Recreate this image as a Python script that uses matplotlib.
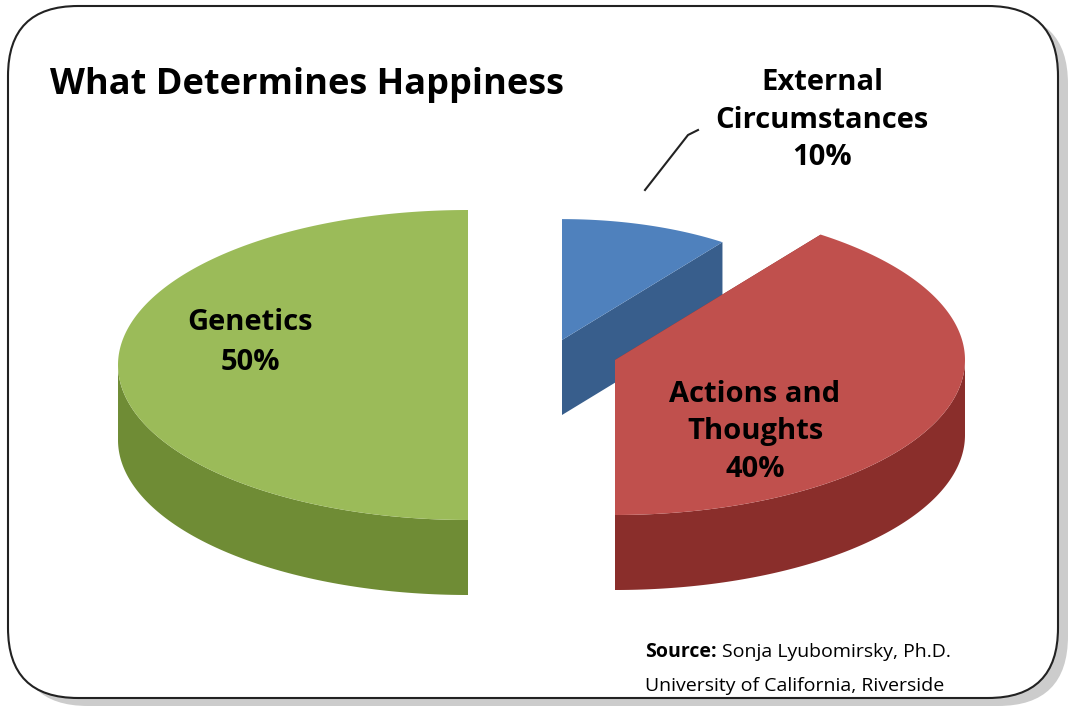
import numpy as np
import matplotlib
matplotlib.use("Agg")
import matplotlib.pyplot as plt
from matplotlib.patches import Polygon, FancyBboxPatch

categories = ["Genetics", "External\nCircumstances", "Actions and\nThoughts"]
values = [50, 10, 40]
pct_labels = ["50%", "10%", "40%"]

tops = ["#9BBB59", "#4F81BD", "#C0504D"]
sides = ["#6F8C35", "#385E8C", "#8A2E2B"]
offsets = [(-72, 0), (22, -25), (75, -5)]

plt.rcParams['font.family'] = ['Open Sans', 'DejaVu Sans']
fig = plt.figure(figsize=(10.8, 7.2), dpi=100)
ax = fig.add_axes([0, 0, 1, 1])
ax.set_xlim(0, 1080); ax.set_ylim(720, 0); ax.axis('off')

ax.add_patch(FancyBboxPatch((18, 14), 1050, 692, boxstyle="round,pad=0,rounding_size=70",
                            fc="#cccccc", ec="none", zorder=0))
ax.add_patch(FancyBboxPatch((8, 6), 1050, 692, boxstyle="round,pad=0,rounding_size=70",
                            fc="white", ec="#222222", lw=1.5, zorder=1))

cx, cy, rx, ry, depth = 540, 365, 350, 155, 75
total = sum(values)
g_sweep = 360 * values[0] / total
e_sweep = 360 * values[1] / total
ranges = [(90, 90 + g_sweep), (90 - e_sweep, 90), (90 - e_sweep - 360 * values[2] / total, 90 - e_sweep)]
radius_scale = [1.0, 0.78, 1.0]

def pt(a, dx, dy, s=1.0, dz=0):
    r = np.radians(a)
    return (cx + dx + s * rx * np.cos(r), cy + dy - s * ry * np.sin(r) + dz)

order = [1, 0, 2]
for i in order:
    a0, a1 = ranges[i]
    dx, dy = offsets[i]
    s = radius_scale[i]
    c = (cx + dx, cy + dy)
    for a in (a0, a1):
        p = pt(a, dx, dy, s)
        ax.add_patch(Polygon([c, p, (p[0], p[1] + depth), (c[0], c[1] + depth)],
                             closed=True, fc=sides[i], ec='none', zorder=2))
    angs = np.linspace(a0, a1, 200)
    front = [a for a in angs if np.sin(np.radians(a)) < 0.001]
    if front:
        topc = [pt(a, dx, dy, s) for a in front]
        botc = [pt(a, dx, dy, s, depth) for a in front[::-1]]
        ax.add_patch(Polygon(topc + botc, closed=True, fc=sides[i], ec='none', zorder=2))
    ax.add_patch(Polygon([c] + [pt(a, dx, dy, s) for a in angs], closed=True,
                         fc=tops[i], ec='none', zorder=3))

ax.text(50, 85, "What Determines Happiness", fontsize=26, fontweight='bold', va='center', zorder=5)
ax.text(250, 342, categories[0] + "\n" + pct_labels[0], fontsize=21, fontweight='bold',
        ha='center', va='center', linespacing=1.5, zorder=5)
ax.text(822, 120, categories[1] + "\n" + pct_labels[1], fontsize=21, fontweight='bold',
        ha='center', va='center', linespacing=1.4, zorder=5)
ax.text(755, 432, categories[2] + "\n" + pct_labels[2], fontsize=21, fontweight='bold',
        ha='center', va='center', linespacing=1.4, zorder=5)
ax.plot([645, 688, 698], [190, 135, 130], color='#222222', lw=1.5, zorder=5)

ax.text(645, 652, "Source:", fontsize=14, fontweight='bold', va='center', zorder=5)
ax.text(722, 652, "Sonja Lyubomirsky, Ph.D.", fontsize=14, va='center', zorder=5)
ax.text(645, 686, "University of California, Riverside", fontsize=14, va='center', zorder=5)

fig.savefig("out.png", dpi=100)
